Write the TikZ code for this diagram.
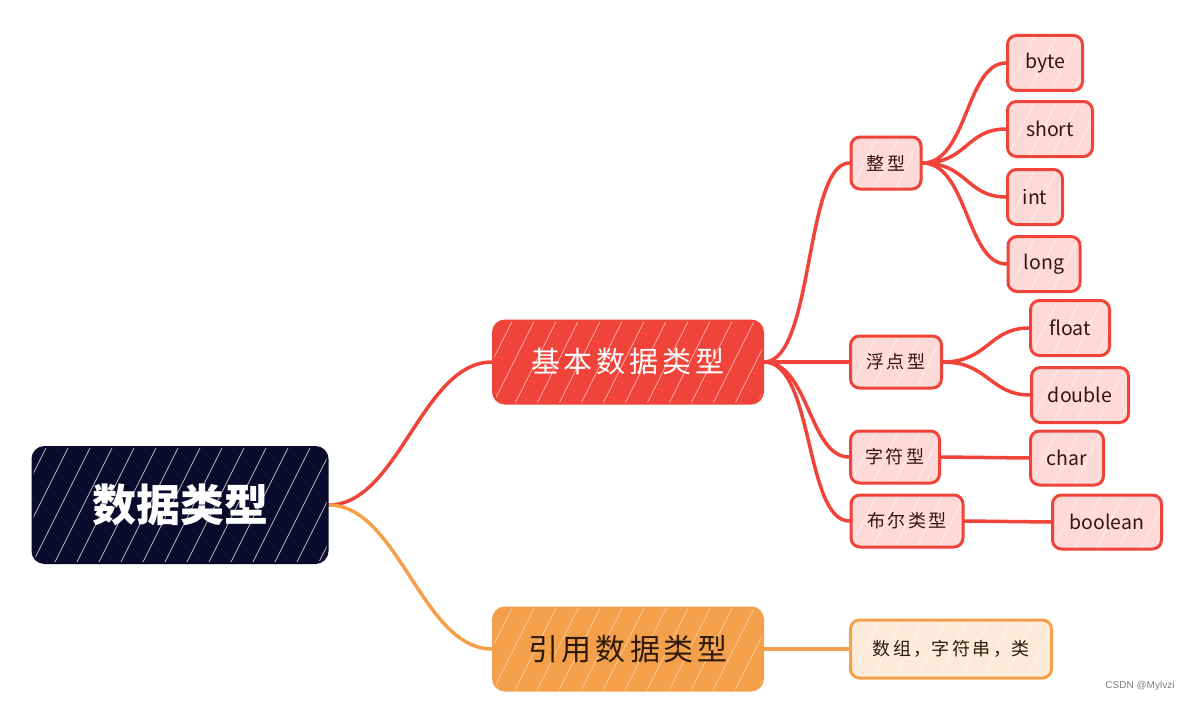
\documentclass[tikz,border=0pt]{standalone}
\usepackage{fontspec}
\usetikzlibrary{backgrounds}
\setmainfont{Noto Sans CJK SC}
\newfontfamily\wmfont{Liberation Sans}
\newcommand{\gapA}{\hspace{4pt}}
\newcommand{\gapB}{\hspace{2.5pt}}
\definecolor{navy}{HTML}{0A0A2D}
\definecolor{redc}{HTML}{F0433A}
\definecolor{orangec}{HTML}{F4A04A}
\definecolor{pinkc}{HTML}{FDDAD7}
\definecolor{peachc}{HTML}{FDEBDA}
\definecolor{darktext}{HTML}{3A1212}
\definecolor{browntext}{HTML}{2E1A08}
\tikzset{
  hatch/.style={path picture={
    \foreach \k in {-8,...,18}{
      \draw[white,opacity=#1,line width=0.8pt]
        ([xshift=\k*22pt]path picture bounding box.south west) -- ++(60pt,120pt);}}},
  bigbox/.style={rounded corners=12pt, inner sep=0pt, line width=2pt},
  rootbox/.style={bigbox, fill=navy, draw=navy, text=white, hatch=0.7,
    minimum width=295pt, minimum height=116pt, font=\fontsize{44}{48}\selectfont\bfseries},
  basebox/.style={bigbox, fill=redc, draw=redc, text=white, hatch=0.55,
    minimum width=270pt, minimum height=83pt, font=\fontsize{29}{32}\selectfont},
  refbox/.style={bigbox, fill=orangec, draw=orangec, text=browntext, hatch=0.45,
    minimum width=270pt, minimum height=83pt, font=\fontsize{30}{32}\selectfont},
  leaf/.style={rounded corners=9pt, inner sep=0pt, line width=3pt, draw=redc, fill=pinkc,
    text=darktext, hatch=0.6, minimum height=52pt, font=\fontsize{19.5}{22}\selectfont},
  cleaf/.style={leaf, font=\fontsize{18}{20}\selectfont},
  oleaf/.style={leaf, draw=orangec, fill=peachc, text=browntext, font=\fontsize{18}{20}\selectfont},
  redline/.style={draw=redc, line width=3.5pt, line cap=round},
  orline/.style={draw=orangec, line width=3.5pt, line cap=round},
}
\begin{document}
\begin{tikzpicture}[x=1pt,y=-1pt]
\begin{scope}[on background layer]
\fill[white] (0,0) rectangle (1192,701);
\end{scope}
\useasboundingbox (0,0) rectangle (1192,701);

% nodes
\node[rootbox] (root) at (180,505) {数据类型};
\node[basebox] (base) at (628,362) {基\gapA 本\gapA 数\gapA 据\gapA 类\gapA 型};
\node[refbox] (ref) at (628,649) {引\gapA 用\gapA 数\gapA 据\gapA 类\gapA 型};

\node[cleaf, minimum width=70pt] (zx) at (886,163) {整\gapB 型};
\node[cleaf, minimum width=91pt] (fd) at (896,362) {浮\gapB 点\gapB 型};
\node[cleaf, minimum width=89pt] (zf) at (895,457) {字\gapB 符\gapB 型};
\node[cleaf, minimum width=112pt] (be) at (907,521) {布\gapB 尔\gapB 类\gapB 型};

\node[leaf, minimum width=75pt, minimum height=55pt] (byte) at (1045,63) {byte};
\node[leaf, minimum width=85pt, minimum height=55pt] (short) at (1050,129) {short};
\node[leaf, minimum width=55pt, minimum height=55pt] (int) at (1035,197) {int};
\node[leaf, minimum width=72pt, minimum height=55pt] (long) at (1044,264) {long};
\node[leaf, minimum width=79pt, minimum height=55pt] (float) at (1070,328) {float};
\node[leaf, minimum width=97pt, minimum height=55pt] (double) at (1080,395) {double};
\node[leaf, minimum width=73pt, minimum height=54pt] (char) at (1067,458) {char};
\node[leaf, minimum width=109pt, minimum height=54pt] (bool) at (1107,522) {boolean};

\node[oleaf, minimum width=201pt, minimum height=58pt] (arr) at (951,649) {数\gapB 组\gapB ，字\gapB 符\gapB 串\gapB ，类};

\node[font=\wmfont\fontsize{10}{12}\selectfont, text=gray] (wm) at (1140,686) {CSDN @Mylvzi};

\begin{scope}[on background layer]
\draw[redline] (root.east) .. controls +(70,0) and +(-70,0) .. (base.west);
\draw[orline] (root.east) .. controls +(70,0) and +(-70,0) .. (ref.west);

\draw[redline] (base.east) .. controls +(50,0) and +(-45,0) .. (zx.west);
\draw[redline] (base.east) .. controls +(40,0) and +(-40,0) .. (fd.west);
\draw[redline] (base.east) .. controls +(45,0) and +(-40,0) .. (zf.west);
\draw[redline] (base.east) .. controls +(50,0) and +(-45,0) .. (be.west);

\draw[redline] (zx.east) .. controls +(45,0) and +(-40,0) .. (byte.west);
\draw[redline] (zx.east) .. controls +(45,0) and +(-40,0) .. (short.west);
\draw[redline] (zx.east) .. controls +(45,0) and +(-40,0) .. (int.west);
\draw[redline] (zx.east) .. controls +(45,0) and +(-40,0) .. (long.west);

\draw[redline] (fd.east) .. controls +(45,0) and +(-40,0) .. (float.west);
\draw[redline] (fd.east) .. controls +(45,0) and +(-40,0) .. (double.west);

\draw[redline] (zf.east) -- (char.west);
\draw[redline] (be.east) -- (bool.west);

\draw[orline] (ref.east) -- (arr.west);
\end{scope}
\end{tikzpicture}
\end{document}
